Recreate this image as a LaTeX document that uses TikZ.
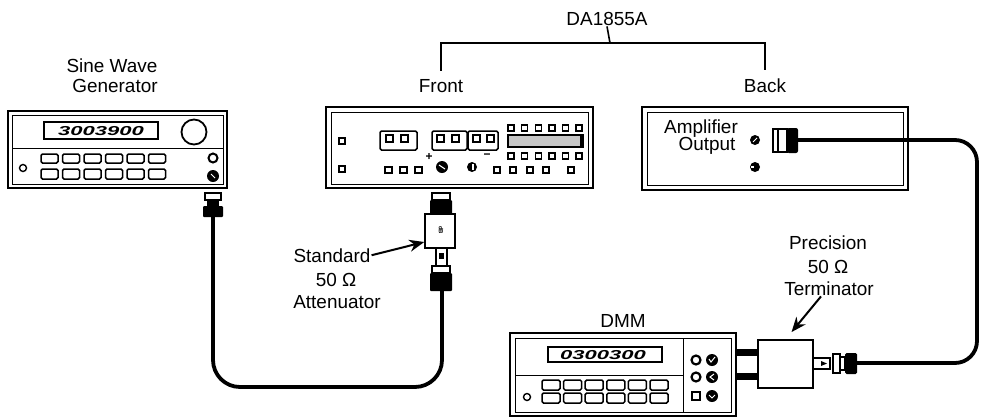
\documentclass[tikz,border=0pt]{standalone}
\usepackage{fontspec}
\setmainfont{Liberation Sans}
\usetikzlibrary{arrows.meta}

\begin{document}
\begin{tikzpicture}[x=1bp, y=-1bp,
    lbl/.style={font=\fontsize{19}{21}\selectfont, inner sep=1bp, anchor=base},
    digits/.style={font=\fontsize{13}{13}\selectfont\bfseries\itshape, inner sep=0pt},
    outer/.style={line width=2.2bp},
    inner/.style={line width=0.9bp},
    btn/.style={line width=1.5bp, rounded corners=1.5bp},
    sq/.style={line width=1.4bp},
    cable/.style={line width=3.8bp},
    pointer/.style={line width=2bp, -{Stealth[length=15bp, width=12bp]}},
    tree/.style={line width=1.6bp}]

\useasboundingbox (0,0) rectangle (983,418);

% labels
\node[lbl] (da) at (607,25) {DA1855A};
\node[lbl] (front) at (441,92) {Front};
\node[lbl] (back) at (765,92) {Back};
\node[lbl] (sine) at (112,72) {Sine Wave};
\node[lbl] (gen) at (115,92) {Generator};
\node[lbl] (std) at (332,262) {Standard};
\node[lbl] (stdohm) at (336,286) {50 Ω};
\node[lbl] (stdatt) at (337,308) {Attenuator};
\node[lbl] (prec) at (828,249) {Precision};
\node[lbl] (precohm) at (828,273) {50 Ω};
\node[lbl] (term) at (829,295) {Terminator};
\node[lbl] (dmm) at (623,327) {DMM};
\node[lbl] (amp) at (701,133) {Amplifier};
\node[lbl] (outp) at (707,150) {Output};

% DA1855A tree
\coordinate (split) at (610,43);
\draw[tree] (da.south) -- (split);
\draw[tree, shorten <=7bp, shorten >=7bp] (front.north) |- (split) -| (back.north);

% sine wave generator
\draw[outer] (8,111) rectangle (227,188);
\draw[inner] (12,115) rectangle (223,184);
\draw[inner] (12,148) -- (223,148);
\draw[sq] (44,122) rectangle (158,139);
\node[digits] (gendisp) at (101,131) {\scalebox{1.7}[1]{3003900}};
\draw[line width=1.8bp] (194,132) circle (12.5);
\foreach \i in {0,...,5} {
    \draw[btn] (41+\i*21.5,154) rectangle ++(17,9);
    \draw[btn] (41+\i*21.5,169) rectangle ++(17,10);
}
\draw[sq] (23,168) circle (3.5);
\draw[line width=2bp] (213,158) circle (4.5);
\fill (213,176) circle (6);
\draw[white, line width=1bp] (211,174) -- (215,178);

% generator plug
\draw[line width=1.5bp] (205,193) rectangle (221,200);
\fill (207,200) rectangle (219,206);
\fill[rounded corners=1bp] (203,206) rectangle (223,217);
\coordinate (genplug) at (213,217);

% DA1855A front panel
\draw[outer] (326,107) rectangle (593,188);
\draw[inner] (331,112) rectangle (588,184);
\draw[sq] (339,138) rectangle ++(6,6);
\draw[sq] (339,166) rectangle ++(6,6);
\draw[btn] (380,131) rectangle (417,150);
\draw[sq] (386,135) rectangle ++(7,7);
\draw[sq] (401,135) rectangle ++(7,7);
\draw[btn] (432,131) rectangle (467,150);
\draw[sq] (437,135) rectangle ++(7,7);
\draw[sq] (452,135) rectangle ++(7,7);
\draw[btn] (468,131) rectangle (498,150);
\draw[sq] (473,135) rectangle ++(7,7);
\draw[sq] (487,135) rectangle ++(7,7);
\foreach \i in {0,...,5} {
    \draw[sq] (508+\i*13.6,125) rectangle ++(6,6);
    \draw[sq] (508+\i*13.6,153) rectangle ++(6,6);
}
\draw[sq, fill=black!22] (508,135) rectangle (583,147);
\fill (580,135) rectangle (583,147);
\foreach \x in {385,400,415}
    \draw[sq] (\x,167) rectangle ++(7,6);
\foreach \x in {494,510,527,543,568}
    \draw[sq] (\x,167) rectangle ++(6,6);
\node[font=\fontsize{12}{12}\selectfont\bfseries, inner sep=0pt] (plus) at (429,157) {+};
\node[font=\fontsize{12}{12}\selectfont\bfseries, inner sep=0pt] (minus) at (487,156) {−};
\fill (442,167) circle (6);
\draw[white, line width=1bp] (439,165) -- (445,169);
\fill (472,167) circle (5);
\fill[white] (472,164) rectangle (474,170);

% attenuator chain
\draw[line width=1.5bp] (432,193) rectangle (450,200);
\fill[rounded corners=1bp] (430,200) rectangle (452,214);
\node[draw, line width=1.5bp, minimum width=30bp, minimum height=34bp, inner sep=0pt] (attbox) at (440,231) {};
\node[rotate=-90, font=\fontsize{6}{6}\selectfont\bfseries, inner sep=0pt] (db) at (441,230) {dB};
\draw[line width=1.5bp] (436,248) rectangle (447,266);
\fill (439,253) rectangle (444,259);
\draw[line width=1.5bp] (432,266) rectangle (450,273);
\fill[rounded corners=1bp] (430,273) rectangle (452,291);
\coordinate (attplug) at (442,291);

\draw[cable, rounded corners=27bp] (genplug) -- ++(0,170) -| (attplug);
\draw[pointer] (std.east) -- ([yshift=-11bp]attbox.west);

% DA1855A back panel
\draw[outer] (642,107) rectangle (908,190);
\draw[inner] (647,112) rectangle (903,185);
\fill (755,140) circle (5);
\draw[white, line width=1bp] (753,142) -- (757,138);
\fill (755,167) circle (5);
\fill[white] (751,166) rectangle (754,168);
\draw[line width=1.5bp] (773,129) rectangle (787,152);
\draw[line width=1.2bp] (778,129) -- (778,152);
\fill[rounded corners=2bp] (787,128) rectangle (798,153);
\coordinate (ampplug) at (798,140);

% DMM
\draw[outer] (510,333) rectangle (736,416);
\draw[inner] (515,338) rectangle (731,412);
\draw[inner] (683,338) -- (683,412);
\draw[inner] (515,375) -- (683,375);
\draw[sq] (548,347) rectangle (662,362);
\node[digits] (dmmdisp) at (603,355) {\scalebox{1.7}[1]{0300300}};
\foreach \i in {0,...,5} {
    \draw[btn] (542+\i*21.6,380) rectangle ++(18,10);
    \draw[btn] (542+\i*21.6,393) rectangle ++(18,10);
}
\draw[sq] (527,397) circle (3.5);
\draw[line width=2.2bp] (696,360) circle (4.5);
\fill (712,360) circle (6);
\draw[line width=2.2bp] (696,377) circle (4.5);
\fill (712,377) circle (6);
\draw[sq] (692,392) rectangle (700,400);
\fill (712,396) circle (6);
\draw[white, line width=1bp] (709,359) -- (711,362) -- (715,357);
\draw[white, line width=1bp] (714,374) -- (710,377) -- (714,380);
\draw[white, line width=1bp] (709,395) -- (712,398) -- (715,395);

% terminator
\fill (737,349) rectangle (758,356);
\fill (737,373) rectangle (758,380);
\node[draw, line width=1.8bp, fill=white, minimum width=55bp, minimum height=48bp, inner sep=0pt] (tbox) at (785.5,364) {};
\draw[sq] (813,358) rectangle (830,369);
\fill (821,361) -- (827,363.5) -- (821,366) -- cycle;
\draw[sq] (833,354) rectangle (840,373);
\draw[sq] (840,357) rectangle (845,370);
\fill[rounded corners=1.5bp] (845,353) rectangle (857,374);
\coordinate (termplug) at (857,363);

\draw[cable, rounded corners=22bp] (ampplug) -| (977,250) |- (termplug);
\draw[pointer] ([xshift=-8bp]term.south) -- ([xshift=6bp, yshift=7bp]tbox.north);

\end{tikzpicture}
\end{document}
